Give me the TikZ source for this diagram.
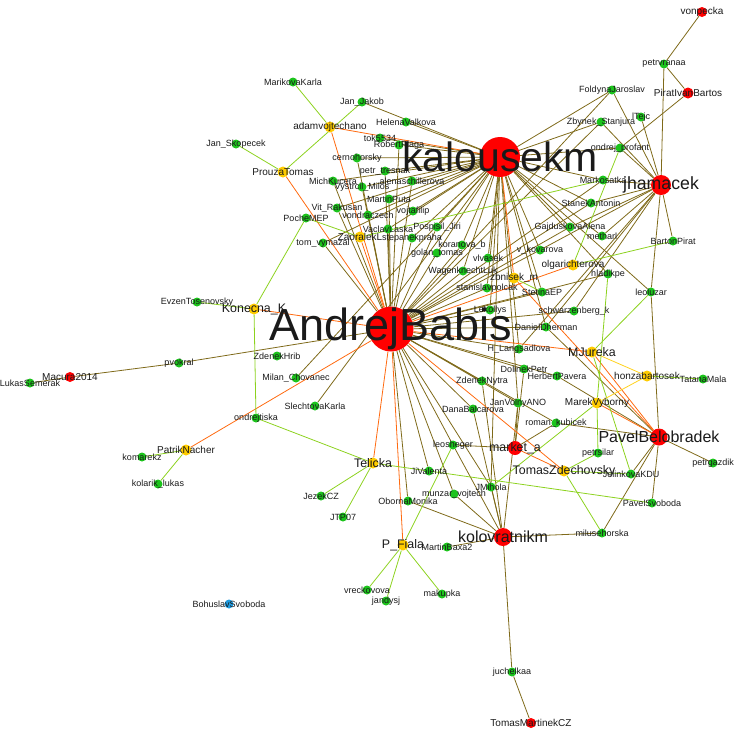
\documentclass[tikz,border=0pt]{standalone}
\usepackage{fontspec}
\setmainfont{Liberation Sans}
\usetikzlibrary{backgrounds}
\definecolor{ink}{HTML}{1A1A1A}
\definecolor{hubred}{HTML}{FF0000}
\definecolor{leafgreen}{HTML}{1CC41C}
\definecolor{gold}{HTML}{FFCC00}
\definecolor{sky}{HTML}{1E9BE0}
\definecolor{olive}{HTML}{7F6A1A}
\definecolor{flame}{HTML}{FF6A10}
\definecolor{lime}{HTML}{8CD21E}
\definecolor{amber}{HTML}{FFD21E}
\tikzset{
  vtx/.style={circle,inner sep=0pt,draw=none},
  gvtx/.style={vtx,fill=leafgreen,minimum size=9pt},
  yvtx/.style={vtx,fill=gold,minimum size=11pt},
  rvtx/.style={vtx,fill=hubred},
  bvtx/.style={vtx,fill=sky,minimum size=9pt},
  lab/.style={font=\fontsize{9}{9}\selectfont,text=ink,inner sep=0pt},
  labm/.style={lab,font=\fontsize{10}{10}\selectfont},
  labl/.style={lab,font=\fontsize{12.4}{12.4}\selectfont},
  rg/.style={draw=olive,line width=0.8pt},
  ry/.style={draw=flame,line width=0.8pt},
  gy/.style={draw=lime,line width=0.8pt},
  yy/.style={draw=amber,line width=0.8pt}
}

\begin{document}
\begin{tikzpicture}[x=1pt,y=-1pt]
\useasboundingbox (0,0) rectangle (735,732);
% leaves
\foreach \nm/\px/\py/\tx in {
  marikova/293/82/MarikovaKarla, jakob/362/102/Jan\_Jakob, helena/406/122/HelenaValkova,
  tok/380/138/tok5534, plaga/399/145/RobertPlaga, cerno/357/158/cernohorsky,
  tresnak/385/171/petr\_tresnak, alena/412/181/alenaschillerova, kucera/333/181/MichKucera,
  vystrcil/362/187/Vystrcil\_Milos, puta/389/199/MartinPuta, vojta/413/211/vojtafilip,
  rakusan/337/208/Vit\_Rakusan, poche/306/218/PocheMEP, vondra/368/215/vondraczech,
  laska/388/229/VaclavLaska, stepanek/412/238/stepanekpraha, vymazal/323/243/tom\_vymazal,
  pospisil/437/227/Pospisil\_Jiri, koranova/462/245/koranova\_b, golan/437/253/golan\_tomas,
  vlvasek/488/258/vlvasek, wagen/463/271/WagenknechtLuk, polcak/487/288/stanislavpolcak,
  lekollys/490/310/Lekollys, skopecek/236/144/Jan\_Skopecek, foldyna/612/90/FoldynaJaroslav,
  vrana/664/64/petrvranaa, stanjura/601/122/Zbynek\_Stanjura, tejc/641/117/lTejc,
  profant/620/148/ondrej\_profant, satka/603/180/Markosatka, stanek/591/203/StanekAntonin,
  gajdus/570/227/GajduskovaAlena, metharl/602/236/metharl, kovarova/540/250/v\_kovarova,
  hladik/608/274/hladikpe, barton/673/241/BartonPirat, luzar/651/292/leoluzar,
  stetina/542/292/StetinaEP, schwarz/574/311/schwarzenberg\_k, dherman/546/327/DanielDherman,
  langs/519/349/H\_Langsadlova, dolinek/524/369/DolinekPetr, pavera/557/376/HerbertPavera,
  nytra/482/381/ZdenekNytra, volny/518/403/JanVolnyANO, balcar/473/409/DanaBalcarova,
  kubicek/556/423/roman\_kubicek, leosheger/453/445/leosheger, silar/598/453/petrsilar,
  jelinkova/631/474/JelinkovaKDU, tatana/703/379/TatanaMala, gazdik/713/463/petrgazdik,
  psvoboda/652/503/PavelSvoboda, miluse/602/533/milusehorska, mihola/491/487/JMihola,
  munzar/454/494/munzar\_vojtech, valenta/429/471/JiValenta, oborna/408/501/ObornaMonika,
  jezek/321/496/JezekCZ, jtp/343/517/JTP07, baxa/447/547/MartinBaxa2,
  vreck/367/590/vreckovova, jandysj/386/601/jandysj, makupka/442/594/makupka,
  juchel/512/672/juchelkaa, hrib/277/356/ZdenekHrib, chovanec/296/378/Milan\_Chovanec,
  slechtova/315/406/SlechtovaKarla, tiska/256/418/ondrejtiska, tosen/197/302/EvzenTosenovsky,
  pvokral/179/363/pvokral, semerak/30/383/LukasSemerak, komarek/142/457/komarekz,
  kolarik/158/484/kolarik\_lukas}
  \node[gvtx,label={[lab]center:\tx}] (\nm) at (\px,\py) {};
\node[bvtx,label={[lab]center:BohuslavSvoboda}] (bsvoboda) at (229,604) {};
% brokers
\foreach \nm/\px/\py/\tx in {
  adam/330/127/adamvojtechano, prouza/283/172/ProuzaTomas, zaoralek/360/237/ZaoralekL,
  zbnisek/514/278/zbnisek\_m, olga/573/265/olgarichterova, honza/647/376/honzabartosek,
  vyborny/597/403/MarekVyborny, nacher/186/450/PatrikNacher}
  \node[yvtx,label={[labm]center:\tx}] (\nm) at (\px,\py) {};
\foreach \nm/\px/\py/\tx in {
  konecna/254/309/Konecna\_K, jureka/592/352/MJureka, telicka/373/463/Telicka,
  zdech/564/471/TomasZdechovsky, fiala/403/545/P\_Fiala}
  \node[yvtx,label={[labl]center:\tx}] (\nm) at (\px,\py) {};
% hubs
\node[rvtx,minimum size=10pt,label={[labm]center:vonpecka}] (vonpecka) at (702,12) {};
\node[rvtx,minimum size=11pt,label={[labm]center:PiratIvanBartos}] (bartos) at (688,93) {};
\node[rvtx,minimum size=10pt,label={[labm]center:Macura2014}] (macura) at (70,377) {};
\node[rvtx,minimum size=10pt,label={[labm]center:TomasMartinekCZ}] (martinek) at (531,723) {};
\node[rvtx,minimum size=14pt,label={[labl]center:market\_a}] (market) at (515,448) {};
\node[rvtx,minimum size=18pt,label={[lab,font=\fontsize{16}{16}\selectfont]center:kolovratnikm}] (kolovrat) at (503,537) {};
\node[rvtx,minimum size=17pt,label={[lab,font=\fontsize{16}{16}\selectfont]center:PavelBelobradek}] (belobradek) at (659,437) {};
\node[rvtx,minimum size=20pt,label={[lab,font=\fontsize{17.7}{17.7}\selectfont]center:jhamacek}] (hamacek) at (661,185) {};
\node[rvtx,minimum size=40pt,label={[lab,font=\fontsize{41}{41}\selectfont]center:kalousekm}] (kalousek) at (500,157) {};
\node[rvtx,minimum size=45pt,label={[lab,font=\fontsize{45}{45}\selectfont]center:AndrejBabis}] (babis) at (391,329) {};

\begin{scope}[on background layer]
% red to green
\foreach \b in {jakob,helena,tok,plaga,cerno,tresnak,alena,kucera,vystrcil,puta,vojta,
  rakusan,vondra,laska,stepanek,pospisil,koranova,golan,vlvasek,wagen,polcak,lekollys,
  foldyna,stanjura,profant,satka,stanek,gajdus,metharl,kovarova,stetina,luzar,dherman,
  langs,volny,mihola,vymazal,chovanec,slechtova,hladik}
  \draw[rg] (kalousek) -- (\b);
\foreach \b in {pvokral,vymazal,rakusan,kucera,cerno,vystrcil,puta,laska,vondra,plaga,
  tresnak,alena,stepanek,pospisil,golan,koranova,wagen,polcak,lekollys,dherman,langs,
  dolinek,pavera,nytra,volny,balcar,kubicek,leosheger,mihola,munzar,oborna,valenta,
  stetina,schwarz,gajdus,stanek,foldyna,kovarova,hladik,satka,stanjura}
  \draw[rg] (babis) -- (\b);
\foreach \b in {vrana,foldyna,tejc,stanjura,profant,satka,stanek,gajdus,metharl,kovarova,
  barton,luzar,schwarz,dherman,langs}
  \draw[rg] (hamacek) -- (\b);
\foreach \b in {luzar,dherman,kubicek,jelinkova,psvoboda,gazdik,miluse,pavera}
  \draw[rg] (belobradek) -- (\b);
\foreach \b in {juchel,miluse,baxa,mihola,munzar,oborna,leosheger,balcar,nytra,volny}
  \draw[rg] (kolovrat) -- (\b);
\foreach \b in {leosheger,volny,dolinek,kubicek}
  \draw[rg] (market) -- (\b);
\foreach \a/\b in {vonpecka/vrana,bartos/vrana,bartos/profant,macura/semerak,
  macura/pvokral,martinek/juchel}
  \draw[rg] (\a) -- (\b);
% red to yellow
\foreach \a/\b in {kalousek/adam,kalousek/zbnisek,babis/prouza,babis/adam,babis/konecna,
  babis/nacher,babis/telicka,babis/fiala,babis/jureka,babis/olga,babis/zdech,
  babis/zaoralek,belobradek/zbnisek,belobradek/vyborny,belobradek/jureka,market/zdech}
  \draw[ry] (\a) -- (\b);
% yellow to green
\foreach \a/\b in {prouza/jakob,prouza/skopecek,adam/marikova,konecna/tosen,konecna/poche,
  konecna/tiska,zaoralek/poche,zaoralek/satka,tiska/telicka,telicka/jezek,telicka/jtp,
  telicka/psvoboda,nacher/komarek,nacher/kolarik,fiala/vreck,fiala/jandysj,fiala/makupka,
  fiala/leosheger,olga/barton,olga/profant,jureka/luzar,jureka/jelinkova,vyborny/hladik,
  vyborny/silar,vyborny/mihola,zdech/silar,zdech/jelinkova,zdech/miluse,honza/tatana,
  zbnisek/stetina}
  \draw[gy] (\a) -- (\b);
% yellow to yellow
\foreach \a/\b in {jureka/honza,honza/vyborny}
  \draw[yy] (\a) -- (\b);
\end{scope}
\end{tikzpicture}
\end{document}
